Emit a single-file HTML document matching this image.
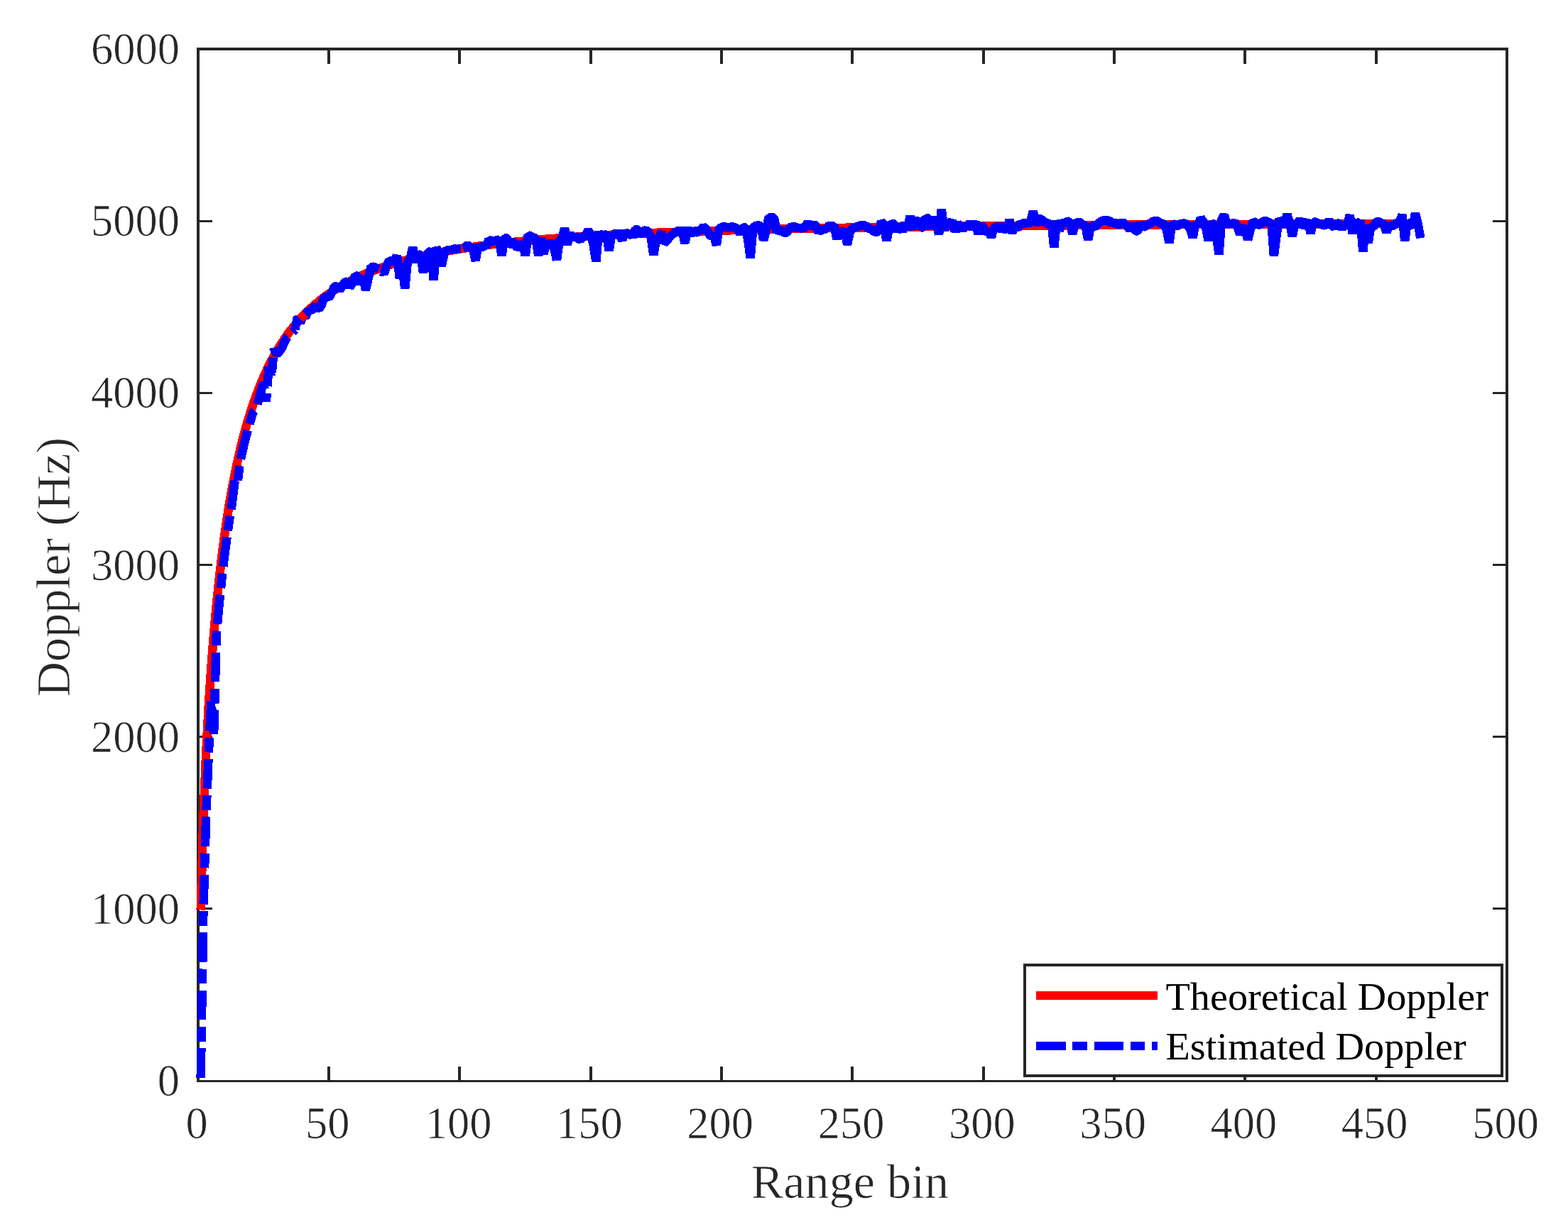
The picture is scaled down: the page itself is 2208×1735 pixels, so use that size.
<!DOCTYPE html>
<html lang="en"><head><meta charset="utf-8"><title>Doppler vs Range bin</title>
<style>html,body{margin:0;padding:0;background:#fff;}body{width:2208px;height:1735px;overflow:hidden;}svg{display:block;}text{font-family:"Liberation Serif","Times New Roman",serif;}</style></head><body>
<svg xmlns="http://www.w3.org/2000/svg" width="2208" height="1735" viewBox="0 0 2208 1735">
<rect x="0" y="0" width="2208" height="1735" fill="#ffffff"/>
<g fill="#262626" shape-rendering="crispEdges">
<rect x="461" y="1502" width="4" height="19"/>
<rect x="461" y="71" width="4" height="19"/>
<rect x="645" y="1502" width="4" height="19"/>
<rect x="645" y="71" width="4" height="19"/>
<rect x="830" y="1502" width="4" height="19"/>
<rect x="830" y="71" width="4" height="19"/>
<rect x="1014" y="1502" width="4" height="19"/>
<rect x="1014" y="71" width="4" height="19"/>
<rect x="1198" y="1502" width="4" height="19"/>
<rect x="1198" y="71" width="4" height="19"/>
<rect x="1383" y="1502" width="4" height="19"/>
<rect x="1383" y="71" width="4" height="19"/>
<rect x="1567" y="1502" width="4" height="19"/>
<rect x="1567" y="71" width="4" height="19"/>
<rect x="1751" y="1502" width="4" height="19"/>
<rect x="1751" y="71" width="4" height="19"/>
<rect x="1936" y="1502" width="4" height="19"/>
<rect x="1936" y="71" width="4" height="19"/>
<rect x="281" y="1278" width="18" height="3"/>
<rect x="2102" y="1278" width="18" height="3"/>
<rect x="281" y="1036" width="18" height="3"/>
<rect x="2102" y="1036" width="18" height="3"/>
<rect x="281" y="794" width="18" height="3"/>
<rect x="2102" y="794" width="18" height="3"/>
<rect x="281" y="552" width="18" height="3"/>
<rect x="2102" y="552" width="18" height="3"/>
<rect x="281" y="310" width="18" height="3"/>
<rect x="2102" y="310" width="18" height="3"/>
<rect x="277" y="67" width="1847" height="4"/><rect x="277" y="1521" width="1847" height="3"/><rect x="277" y="67" width="4" height="1457"/><rect x="2120" y="67" width="4" height="1457"/>
</g>
<g fill="#262626" font-size="62.50px" stroke="#ffffff" stroke-width="0.7" stroke-linejoin="round">
<text transform="translate(277.0 1603.0)" text-anchor="middle">0</text>
<text transform="translate(461.3 1603.0)" text-anchor="middle">50</text>
<text transform="translate(645.6 1603.0)" text-anchor="middle">100</text>
<text transform="translate(829.9 1603.0)" text-anchor="middle">150</text>
<text transform="translate(1014.2 1603.0)" text-anchor="middle">200</text>
<text transform="translate(1198.5 1603.0)" text-anchor="middle">250</text>
<text transform="translate(1382.8 1603.0)" text-anchor="middle">300</text>
<text transform="translate(1567.1 1603.0)" text-anchor="middle">350</text>
<text transform="translate(1751.4 1603.0)" text-anchor="middle">400</text>
<text transform="translate(1935.7 1603.0)" text-anchor="middle">450</text>
<text transform="translate(2120.0 1603.0)" text-anchor="middle">500</text>
<text transform="translate(253.0 1543.0)" text-anchor="end">0</text>
<text transform="translate(253.0 1300.8)" text-anchor="end">1000</text>
<text transform="translate(253.0 1058.7)" text-anchor="end">2000</text>
<text transform="translate(253.0 816.5)" text-anchor="end">3000</text>
<text transform="translate(253.0 574.3)" text-anchor="end">4000</text>
<text transform="translate(253.0 332.2)" text-anchor="end">5000</text>
<text transform="translate(253.0 90.0)" text-anchor="end">6000</text>
</g>
<g fill="#262626" font-size="68.20px" stroke="#ffffff" stroke-width="0.7" stroke-linejoin="round">
<text transform="translate(1197.0 1687.0)" text-anchor="middle">Range bin</text>
<text transform="translate(98.0 798.5) rotate(-90)" text-anchor="middle">Doppler (Hz)</text>
</g>
<g shape-rendering="crispEdges" fill="none" stroke-width="12.5" stroke-linejoin="bevel" stroke-linecap="butt">
<path stroke="#ff0000" d="M282.7 1281.5 L286.4 1151.5 L290.1 1063.5 L293.7 995.5 L297.4 939.7 L301.1 892.6 L304.8 851.9 L308.5 816.3 L312.2 784.7 L315.9 756.5 L319.5 731.1 L323.2 708.1 L326.9 687.2 L330.6 668.0 L334.3 650.4 L338.0 634.2 L341.7 619.2 L345.3 605.4 L349.0 592.5 L352.7 580.5 L356.4 569.3 L360.1 558.8 L363.8 549.0 L367.5 539.8 L371.1 531.1 L374.8 523.0 L378.5 515.3 L382.2 508.0 L385.9 501.2 L389.6 494.7 L393.3 488.5 L397.0 482.7 L400.6 477.1 L404.3 471.9 L408.0 466.9 L411.7 462.1 L415.4 457.5 L419.1 453.2 L422.8 449.1 L426.4 445.1 L430.1 441.3 L433.8 437.7 L437.5 434.2 L441.2 430.9 L444.9 427.7 L448.6 424.7 L452.2 421.7 L455.9 418.9 L459.6 416.2 L463.3 413.6 L467.0 411.1 L470.7 408.7 L474.4 406.3 L478.0 404.1 L481.7 401.9 L485.4 399.8 L489.1 397.8 L492.8 395.9 L496.5 394.0 L500.2 392.2 L503.8 390.4 L507.5 388.7 L511.2 387.1 L514.9 385.5 L518.6 384.0 L522.3 382.5 L526.0 381.1 L529.6 379.7 L533.3 378.3 L537.0 377.0 L540.7 375.7 L544.4 374.5 L548.1 373.3 L551.8 372.1 L555.5 371.0 L559.1 369.9 L562.8 368.8 L566.5 367.8 L570.2 366.8 L573.9 365.8 L577.6 364.8 L581.3 363.9 L584.9 363.0 L588.6 362.1 L592.3 361.2 L596.0 360.4 L599.7 359.6 L603.4 358.8 L607.1 358.0 L610.7 357.3 L614.4 356.5 L618.1 355.8 L621.8 355.1 L625.5 354.4 L629.2 353.7 L632.9 353.1 L636.5 352.4 L640.2 351.8 L643.9 351.2 L647.6 350.6 L651.3 350.0 L655.0 349.5 L658.7 348.9 L662.3 348.4 L666.0 347.8 L669.7 347.3 L673.4 346.8 L677.1 346.3 L680.8 345.8 L684.5 345.4 L688.1 344.9 L691.8 344.4 L695.5 344.0 L699.2 343.6 L702.9 343.1 L706.6 342.7 L710.3 342.3 L713.9 341.9 L717.6 341.5 L721.3 341.1 L725.0 340.7 L728.7 340.4 L732.4 340.0 L736.1 339.7 L739.8 339.3 L743.4 339.0 L747.1 338.6 L750.8 338.3 L754.5 338.0 L758.2 337.6 L761.9 337.3 L765.6 337.0 L769.2 336.7 L772.9 336.4 L776.6 336.1 L780.3 335.9 L784.0 335.6 L787.7 335.3 L791.4 335.0 L795.0 334.8 L798.7 334.5 L802.4 334.3 L806.1 334.0 L809.8 333.8 L813.5 333.5 L817.2 333.3 L820.8 333.0 L824.5 332.8 L828.2 332.6 L831.9 332.4 L835.6 332.1 L839.3 331.9 L843.0 331.7 L846.6 331.5 L850.3 331.3 L854.0 331.1 L857.7 330.9 L861.4 330.7 L865.1 330.5 L868.8 330.3 L872.4 330.1 L876.1 329.9 L879.8 329.8 L883.5 329.6 L887.2 329.4 L890.9 329.2 L894.6 329.1 L898.2 328.9 L901.9 328.7 L905.6 328.6 L909.3 328.4 L913.0 328.2 L916.7 328.1 L920.4 327.9 L924.0 327.8 L927.7 327.6 L931.4 327.5 L935.1 327.3 L938.8 327.2 L942.5 327.1 L946.2 326.9 L949.9 326.8 L953.5 326.6 L957.2 326.5 L960.9 326.4 L964.6 326.2 L968.3 326.1 L972.0 326.0 L975.7 325.9 L979.3 325.7 L983.0 325.6 L986.7 325.5 L990.4 325.4 L994.1 325.3 L997.8 325.2 L1001.5 325.0 L1005.1 324.9 L1008.8 324.8 L1012.5 324.7 L1016.2 324.6 L1019.9 324.5 L1023.6 324.4 L1027.3 324.3 L1030.9 324.2 L1034.6 324.1 L1038.3 324.0 L1042.0 323.9 L1045.7 323.8 L1049.4 323.7 L1053.1 323.6 L1056.7 323.5 L1060.4 323.4 L1064.1 323.3 L1067.8 323.2 L1071.5 323.1 L1075.2 323.1 L1078.9 323.0 L1082.5 322.9 L1086.2 322.8 L1089.9 322.7 L1093.6 322.6 L1097.3 322.6 L1101.0 322.5 L1104.7 322.4 L1108.3 322.3 L1112.0 322.2 L1115.7 322.2 L1119.4 322.1 L1123.1 322.0 L1126.8 321.9 L1130.5 321.9 L1134.2 321.8 L1137.8 321.7 L1141.5 321.6 L1145.2 321.6 L1148.9 321.5 L1152.6 321.4 L1156.3 321.4 L1160.0 321.3 L1163.6 321.2 L1167.3 321.2 L1171.0 321.1 L1174.7 321.0 L1178.4 321.0 L1182.1 320.9 L1185.8 320.9 L1189.4 320.8 L1193.1 320.7 L1196.8 320.7 L1200.5 320.6 L1204.2 320.5 L1207.9 320.5 L1211.6 320.4 L1215.2 320.4 L1218.9 320.3 L1222.6 320.3 L1226.3 320.2 L1230.0 320.2 L1233.7 320.1 L1237.4 320.0 L1241.0 320.0 L1244.7 319.9 L1248.4 319.9 L1252.1 319.8 L1255.8 319.8 L1259.5 319.7 L1263.2 319.7 L1266.8 319.6 L1270.5 319.6 L1274.2 319.5 L1277.9 319.5 L1281.6 319.4 L1285.3 319.4 L1289.0 319.3 L1292.7 319.3 L1296.3 319.3 L1300.0 319.2 L1303.7 319.2 L1307.4 319.1 L1311.1 319.1 L1314.8 319.0 L1318.5 319.0 L1322.1 318.9 L1325.8 318.9 L1329.5 318.9 L1333.2 318.8 L1336.9 318.8 L1340.6 318.7 L1344.3 318.7 L1347.9 318.7 L1351.6 318.6 L1355.3 318.6 L1359.0 318.5 L1362.7 318.5 L1366.4 318.5 L1370.1 318.4 L1373.7 318.4 L1377.4 318.4 L1381.1 318.3 L1384.8 318.3 L1388.5 318.2 L1392.2 318.2 L1395.9 318.2 L1399.5 318.1 L1403.2 318.1 L1406.9 318.1 L1410.6 318.0 L1414.3 318.0 L1418.0 318.0 L1421.7 317.9 L1425.3 317.9 L1429.0 317.9 L1432.7 317.8 L1436.4 317.8 L1440.1 317.8 L1443.8 317.7 L1447.5 317.7 L1451.1 317.7 L1454.8 317.6 L1458.5 317.6 L1462.2 317.6 L1465.9 317.6 L1469.6 317.5 L1473.3 317.5 L1477.0 317.5 L1480.6 317.4 L1484.3 317.4 L1488.0 317.4 L1491.7 317.3 L1495.4 317.3 L1499.1 317.3 L1502.8 317.3 L1506.4 317.2 L1510.1 317.2 L1513.8 317.2 L1517.5 317.2 L1521.2 317.1 L1524.9 317.1 L1528.6 317.1 L1532.2 317.1 L1535.9 317.0 L1539.6 317.0 L1543.3 317.0 L1547.0 316.9 L1550.7 316.9 L1554.4 316.9 L1558.0 316.9 L1561.7 316.9 L1565.4 316.8 L1569.1 316.8 L1572.8 316.8 L1576.5 316.8 L1580.2 316.7 L1583.8 316.7 L1587.5 316.7 L1591.2 316.7 L1594.9 316.6 L1598.6 316.6 L1602.3 316.6 L1606.0 316.6 L1609.6 316.6 L1613.3 316.5 L1617.0 316.5 L1620.7 316.5 L1624.4 316.5 L1628.1 316.4 L1631.8 316.4 L1635.4 316.4 L1639.1 316.4 L1642.8 316.4 L1646.5 316.3 L1650.2 316.3 L1653.9 316.3 L1657.6 316.3 L1661.2 316.3 L1664.9 316.2 L1668.6 316.2 L1672.3 316.2 L1676.0 316.2 L1679.7 316.2 L1683.4 316.1 L1687.1 316.1 L1690.7 316.1 L1694.4 316.1 L1698.1 316.1 L1701.8 316.1 L1705.5 316.0 L1709.2 316.0 L1712.9 316.0 L1716.5 316.0 L1720.2 316.0 L1723.9 315.9 L1727.6 315.9 L1731.3 315.9 L1735.0 315.9 L1738.7 315.9 L1742.3 315.9 L1746.0 315.8 L1749.7 315.8 L1753.4 315.8 L1757.1 315.8 L1760.8 315.8 L1764.5 315.8 L1768.1 315.7 L1771.8 315.7 L1775.5 315.7 L1779.2 315.7 L1782.9 315.7 L1786.6 315.7 L1790.3 315.6 L1793.9 315.6 L1797.6 315.6 L1801.3 315.6 L1805.0 315.6 L1808.7 315.6 L1812.4 315.6 L1816.1 315.5 L1819.7 315.5 L1823.4 315.5 L1827.1 315.5 L1830.8 315.5 L1834.5 315.5 L1838.2 315.5 L1841.9 315.4 L1845.5 315.4 L1849.2 315.4 L1852.9 315.4 L1856.6 315.4 L1860.3 315.4 L1864.0 315.4 L1867.7 315.3 L1871.4 315.3 L1875.0 315.3 L1878.7 315.3 L1882.4 315.3 L1886.1 315.3 L1889.8 315.3 L1893.5 315.3 L1897.2 315.2 L1900.8 315.2 L1904.5 315.2 L1908.2 315.2 L1911.9 315.2 L1915.6 315.2 L1919.3 315.2 L1923.0 315.2 L1926.6 315.1 L1930.3 315.1 L1934.0 315.1 L1937.7 315.1 L1941.4 315.1 L1945.1 315.1 L1948.8 315.1 L1952.4 315.1 L1956.1 315.0 L1959.8 315.0 L1963.5 315.0 L1967.2 315.0 L1970.9 315.0 L1974.6 315.0 L1978.2 315.0 L1981.9 315.0 L1985.6 315.0 L1989.3 314.9 L1993.0 314.9 L1996.7 314.9 L2000.4 314.9"/>
<path stroke="#0000ff" stroke-dasharray="41.67 9.4 20.83 9.6" stroke-dashoffset="0" d="M282.7 1517.9 L286.4 1281.5 L290.1 1151.5 L293.7 1063.5 L297.4 987.0 L301.1 1034.0 L304.8 892.6 L308.5 851.9 L312.2 816.3 L315.9 784.7 L319.5 756.5 L323.2 731.1 L326.9 708.1 L330.6 677.5 L334.3 682.0 L338.0 650.4 L341.7 634.2 L345.3 619.2 L349.0 605.4 L352.7 592.5 L356.4 580.5 L360.1 576.8 L363.8 564.0 L367.5 551.0 L371.1 538.2 L374.8 565.6 L378.5 516.4 L382.2 531.8 L385.9 491.1 L389.6 499.3 L393.3 495.2 L397.0 490.0 L400.6 481.9 L404.3 475.1 L408.0 471.8 L411.7 467.6 L415.4 463.9"/>
<path stroke="#0000ff" d="M415.4 463.9 L419.1 445.9 L422.8 455.3 L426.4 444.1 L430.1 447.1 L433.8 436.3 L437.5 438.4 L441.2 432.6 L444.9 431.7 L448.6 435.7 L452.2 430.7 L455.9 419.8 L459.6 417.5 L463.3 419.3 L467.0 412.4 L470.7 403.7 L474.4 402.6 L478.0 409.0 L481.7 403.2 L485.4 397.5 L489.1 396.4 L492.8 404.7 L496.5 397.9 L500.2 387.9 L503.8 389.0 L507.5 400.1 L511.2 389.1 L514.9 408.4 L518.6 392.1 L522.3 376.0 L526.0 375.7 L529.6 377.4 L533.3 379.3 M538.1 382.5 L540.7 385.3 L544.4 374.3 L548.1 367.3 L551.8 367.6 L555.5 367.1 L559.1 360.3 L562.8 391.9 L566.5 376.1 L570.2 406.1 L573.9 368.5 L577.6 364.4 L581.3 348.4 L584.9 369.7 L588.6 358.0 L592.3 359.5 L596.0 384.0 L599.7 366.6 L603.4 355.0 L607.1 354.0 L610.7 394.1 L614.4 348.5 L618.1 357.2 L621.8 374.4 L625.5 357.1 L629.2 352.5 L632.9 352.0 L636.5 351.6 L640.2 350.3 L643.9 351.4 L647.6 349.9 L649.1 349.8 M652.0 349.3 L655.0 348.4 L658.7 344.9 L662.3 348.1 L666.0 350.4 L669.7 367.3 L673.4 344.9 L677.1 349.1 L680.8 346.1 L684.5 347.6 L688.1 337.7 L691.8 339.3 L695.5 339.5 L699.2 338.3 L702.9 337.6 L706.6 360.2 L710.3 334.7 L713.9 335.3 L717.6 346.7 L721.3 341.7 L725.0 341.2 L728.7 350.6 L732.4 345.8 L736.1 342.9 L739.8 360.2 L743.4 331.3 L747.1 332.5 L750.8 334.4 L754.5 335.5 L758.2 360.2 L761.9 335.2 L765.6 357.9 L769.2 340.7 L772.9 349.0 L776.6 338.6 L780.3 350.1 L784.0 366.2 L787.7 338.3 L791.4 336.7 L795.0 321.2 L798.7 344.5 L802.4 328.0 L806.1 337.1 L809.8 331.8 L813.5 335.6 L817.2 337.8 L820.8 333.3 L824.5 331.5 L828.2 324.4 L831.9 330.4 L835.6 345.0 L839.3 368.3 L843.0 325.8 L846.6 338.6 L850.3 329.6 L854.0 331.1 L857.7 353.3 L861.4 327.9 L865.1 332.6 L868.8 326.7 L872.4 331.0 L876.1 338.2 L879.8 325.2 L883.5 331.3 L887.2 327.5 L890.9 333.7 L894.6 323.2 L898.2 322.8 L901.9 332.7 L905.6 325.5 L909.3 324.3 L913.0 326.3 L916.7 335.1 L920.4 359.2 L924.0 337.2 L927.7 334.6 L931.4 326.5 L935.1 342.2 L938.8 339.0 L942.5 334.5 L946.2 330.6 L949.9 327.6 L953.5 326.2 L957.2 323.8 L960.9 326.6 L964.6 342.4 L968.3 320.5 L972.0 331.8 L975.7 322.8 L979.3 327.5 L983.0 326.9 L986.7 323.9 L990.4 319.4 L994.1 321.9 L997.8 328.0 L1001.5 334.1 L1005.1 330.1 L1008.8 345.3 L1012.5 321.5 L1016.2 320.3 L1019.9 318.7 L1023.6 320.6 L1027.3 320.1 L1030.9 319.2 L1034.6 320.2 L1038.3 322.1 L1042.0 329.5 L1045.7 319.5 L1049.4 320.7 L1053.1 336.3 L1056.7 363.4 L1060.4 320.8 L1064.1 317.9 L1067.8 317.4 L1071.5 318.3 L1075.2 338.3 L1078.9 324.5 L1082.5 306.2 L1086.2 306.2 L1089.9 306.5 L1093.6 327.1 L1097.3 323.7 L1101.0 325.0 L1104.7 328.0 L1108.3 327.6 L1112.0 320.3 L1115.7 319.6 L1119.4 319.1 L1123.1 322.0 L1126.8 319.9 L1130.5 322.9 L1134.2 318.8 L1137.8 313.1 L1141.5 321.2 L1145.2 315.0 L1148.9 318.6 L1152.6 326.9 L1156.3 323.0 L1160.0 323.4 L1163.6 321.6 L1167.3 317.5 L1171.0 318.5 L1174.7 317.6 L1178.4 336.4 L1182.1 323.4 L1185.8 327.3 L1189.4 323.5 L1193.1 344.4 L1196.8 326.5 L1200.5 321.7 L1204.2 320.3 L1207.9 318.9 L1211.6 317.3 L1215.2 317.7 L1218.9 317.5 L1222.6 322.0 L1226.3 322.1 L1230.0 325.5 L1233.7 326.8 L1237.4 326.1 L1241.0 311.8 L1244.7 316.5 L1248.4 339.3 L1252.1 320.6 L1255.8 314.5 L1259.5 315.7 L1263.2 326.4 L1266.8 316.4 L1270.5 326.5 L1274.2 313.8 L1277.9 323.5 L1281.6 304.6 L1285.3 318.4 L1289.0 317.9 L1292.7 307.3 L1296.3 321.0 L1300.0 319.9 L1303.7 306.5 L1307.4 307.6 L1311.1 322.0 L1314.8 306.0 L1318.5 314.0 L1322.1 330.2 L1325.8 294.6 L1329.5 324.7 L1333.2 310.1 L1336.9 317.1 L1340.6 310.5 L1344.3 326.0 L1347.9 314.3 L1351.6 318.7 L1355.3 324.2 L1359.0 316.1 L1362.7 321.2 L1366.4 311.8 L1370.1 322.5 L1373.7 312.0 L1377.4 329.6 L1381.1 316.2 L1384.8 320.3 L1388.5 328.7 L1392.2 323.5 L1395.9 334.4 L1399.5 321.3 L1403.2 319.0 L1406.9 319.0 L1410.6 325.1 L1414.3 315.6 L1418.0 326.9 L1421.7 309.1 L1425.3 328.3 L1429.0 316.0 L1432.7 323.1 L1436.4 313.7 L1440.1 316.2 L1443.8 312.7 L1447.5 315.7 L1451.1 312.4 L1454.8 297.6 L1458.5 316.8 L1462.2 308.4 L1465.9 308.1 L1469.6 312.5 L1473.3 313.4 L1477.0 316.2 L1480.6 312.9 L1484.3 348.4 L1488.0 310.6 L1491.7 324.5 L1495.4 314.7 L1499.1 313.9 L1502.8 312.2 L1506.4 311.2 L1510.1 329.3 L1513.8 316.2 L1517.5 312.5 L1521.2 313.5 L1524.9 316.5 L1528.6 317.7 L1532.2 338.3 L1535.9 316.5 L1539.6 318.7 L1543.3 318.9 L1547.0 314.1 L1550.7 311.7 L1554.4 310.4 L1558.0 310.7 L1561.7 309.7 L1565.4 315.3 L1569.1 312.1 L1572.8 316.0 L1576.5 316.6 L1580.2 311.6 L1583.8 316.3 L1587.5 318.1 L1591.2 324.1 L1594.9 315.5 L1598.6 326.0 L1602.3 325.0 L1606.0 314.6 L1609.6 319.6 L1613.3 318.7 L1617.0 315.3 L1620.7 314.3 L1624.4 311.3 L1628.1 310.7 L1631.8 312.6 L1635.4 314.9 L1639.1 315.8 L1642.8 323.7 L1646.5 342.2 L1650.2 314.2 L1653.9 316.8 L1657.6 318.8 L1661.2 315.6 L1664.9 314.8 L1668.6 314.6 L1672.3 317.2 L1676.0 322.8 L1679.7 334.4 L1683.4 314.3 L1687.1 317.1 L1690.7 307.3 L1694.4 311.5 L1698.1 321.6 L1701.8 339.0 L1705.5 313.5 L1709.2 316.3 L1712.9 332.4 L1716.5 358.3 L1720.2 309.3 L1723.9 302.5 L1727.6 316.8 L1731.3 314.8 L1735.0 314.8 L1738.7 313.0 L1742.3 318.2 L1746.0 330.2 L1749.7 321.7 L1753.4 321.2 L1757.1 338.0 L1760.8 323.2 L1764.5 311.5 L1768.1 313.6 L1771.8 316.6 L1775.5 316.2 L1779.2 311.2 L1782.9 311.0 L1786.6 313.6 L1790.3 313.0 L1793.9 360.4 L1797.6 331.1 L1801.3 308.1 L1805.0 313.5 L1808.7 318.5 L1812.4 301.6 L1816.1 313.8 L1819.7 332.5 L1823.4 315.4 L1827.1 315.3 L1830.8 308.6 L1834.5 320.0 L1838.2 315.5 L1841.9 310.5 L1845.5 328.4 L1849.2 312.0 L1852.9 313.1 L1856.6 315.0 L1860.3 315.4 L1864.0 317.3 L1867.7 317.0 L1871.4 310.0 L1875.0 316.1 L1878.7 320.9 L1882.4 314.9 L1886.1 314.2 L1889.8 322.3 L1893.5 315.2 L1897.2 316.9 L1900.8 302.7 L1904.5 329.3 L1908.2 309.0 L1911.9 323.0 L1915.6 310.1 L1919.3 354.3 L1923.0 316.8 L1926.6 342.2 L1930.3 319.5 L1934.0 319.8 L1937.7 312.4 L1941.4 312.1 L1945.1 314.3 L1948.8 314.9 L1952.4 327.3 L1956.1 316.5 L1959.8 318.7 L1963.5 316.9 L1967.2 313.5 L1970.9 313.0 L1974.6 302.2 L1978.2 339.2 L1981.9 311.9 L1985.6 315.4 L1989.3 320.0 L1993.0 300.6 L1996.7 315.9 L2000.4 335.3"/>
<path stroke="#ff0000" d="M422.8 449.1 L426.4 445.1 L429.4 442.1"/>
</g>
<g shape-rendering="crispEdges">
<rect x="1443" y="1359" width="672" height="156" fill="#ffffff" stroke="#262626" stroke-width="4"/>
<rect x="1459" y="1396" width="171" height="12" fill="#ff0000"/>
<path d="M1459 1473 H1630" stroke="#0000ff" stroke-width="12" fill="none" stroke-dasharray="41.67 9.4 20.83 9.6"/>
</g>
<g fill="#000000" font-size="56.25px">
<text transform="translate(1641.5 1421.7) scale(1 0.965)" text-anchor="start">Theoretical Doppler</text>
<text transform="translate(1641.5 1492.2) scale(1 0.965)" text-anchor="start">Estimated Doppler</text>
</g>
</svg></body></html>
